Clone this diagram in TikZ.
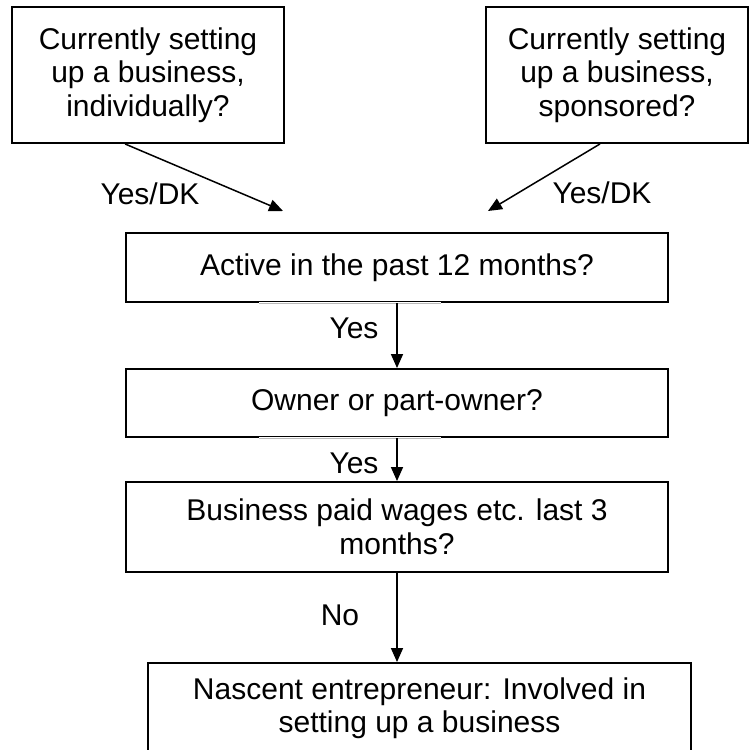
\documentclass[tikz,border=0pt]{standalone}
\usepackage{fontspec}
\setmainfont{Liberation Sans}
\usetikzlibrary{positioning,calc,arrows.meta}

\begin{document}
\begin{tikzpicture}[x=1pt,y=-1pt,
	qbox/.style={draw, line width=1.9pt, align=center, inner sep=0, font=\fontsize{30}{33.5}\selectfont},
	lbl/.style={inner sep=0, font=\fontsize{30}{33.5}\selectfont},
	flow/.style={line width=1.5pt, -{Triangle[length=14pt,width=12pt]}},
	gap/.style={draw=gray!55, line width=0.8pt, preaction={draw=white, line width=2.6pt}}]
	\useasboundingbox (0,0) rectangle (749,750);
	% question boxes
	\node[qbox, minimum width=272, minimum height=136] (indiv) at (148,75) {Currently setting\\up a business,\\individually?};
	\node[qbox, minimum width=262, minimum height=136] (spons) at (617,75) {Currently setting\\up a business,\\sponsored?};
	\node[qbox, minimum width=542, minimum height=69] (act) at (397,267.5) {Active in the past 12 months?};
	\node[qbox, minimum width=542, minimum height=68] (own) at (397,403) {Owner or part-owner?};
	\node[qbox, minimum width=542, minimum height=90] (biz) at (397,527) {Business paid wages etc. last 3\\months?};
	\node[qbox, minimum width=543, minimum height=90] (nas) at (419.5,708) {Nascent entrepreneur: Involved in\\setting up a business};
	% light pieces on the box edges
	\foreach \b in {act,own}
		\draw[gap] ($(\b.south west)+(134,0)$) -- ++(182,0);
	% arrows
	\coordinate (tipL) at (283,211);
	\coordinate (tipR) at (488,211);
	\draw[flow] (indiv.south -| act.west) -- (tipL);
	\draw[flow] ($(spons.south)+(-17,0)$) -- (tipR);
	\draw[flow] (act.south) -- (own.north);
	\draw[flow] (own.south) -- (biz.north);
	\draw[flow] (biz.south) -- (biz.south |- nas.north);
	% answers
	\node[lbl] (ydkL) at (150,194) {Yes/DK};
	\node[lbl] (ydkR) at (602,193) {Yes/DK};
	\node[lbl] (yes1) at (354,328) {Yes};
	\node[lbl] (yes2) at (354,463) {Yes};
	\node[lbl] (no) at (340,615) {No};
\end{tikzpicture}
\end{document}
